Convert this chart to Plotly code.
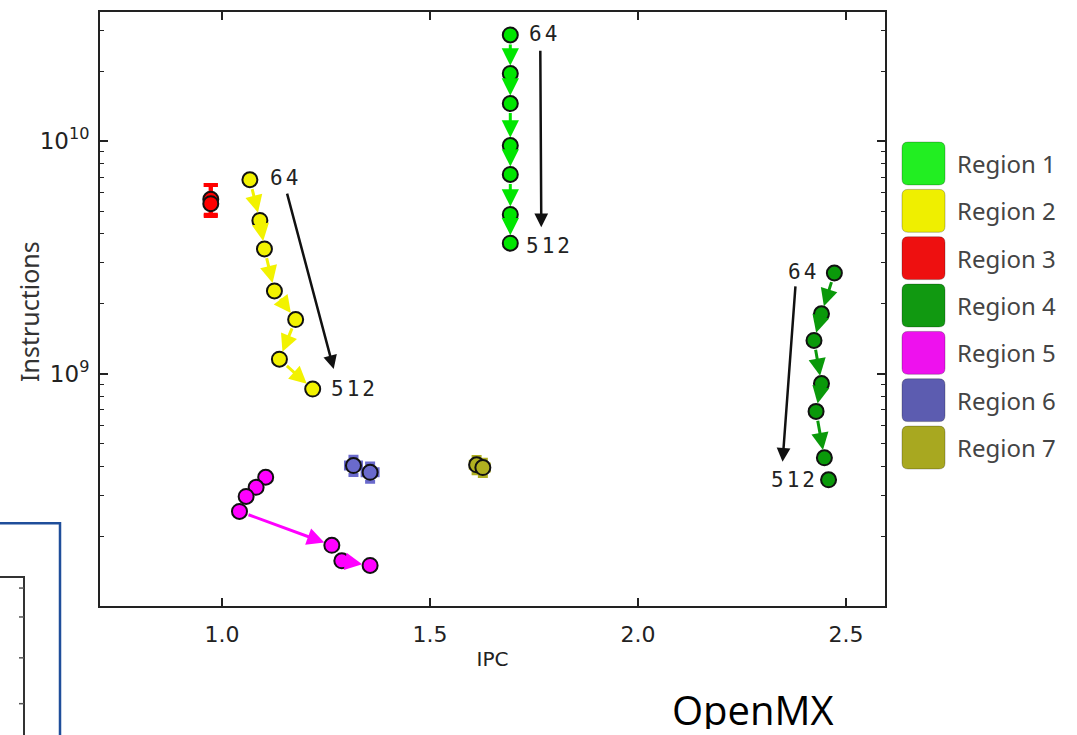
import math
import plotly.graph_objects as go

# ---------------- data ----------------
region_names = ["Region 1", "Region 2", "Region 3", "Region 4", "Region 5", "Region 6", "Region 7"]
marker_colors = ["#00e600", "#f2f200", "#ff0000", "#0a990a", "#ff00ff", "#6a6acc", "#b0b020"]
legend_colors = ["#22ee22", "#efef00", "#ee1010", "#119911", "#ee11ee", "#5c5cb0", "#a8a820"]

r1_ipc = [1.693, 1.693, 1.693, 1.693, 1.693, 1.693, 1.693]
r1_ins = [2.86e10, 1.95e10, 1.45e10, 9.57e9, 7.19e9, 4.84e9, 3.64e9]

r2_ipc = [1.067, 1.091, 1.102, 1.126, 1.177, 1.138, 1.218]
r2_ins = [6.82e9, 4.56e9, 3.44e9, 2.27e9, 1.71e9, 1.155e9, 8.59e8]

r3_ipc = [0.973, 0.973]
r3_ins = [5.62e9, 5.38e9]
r3_err_plus = [0.85e9, 1.1e9]
r3_err_minus = [0.8e9, 0.62e9]

r4_ipc = [2.472, 2.441, 2.423, 2.441, 2.428, 2.448, 2.458]
r4_ins = [2.71e9, 1.81e9, 1.39e9, 9.07e8, 6.89e8, 4.35e8, 3.50e8]

r5_ipc = [1.105, 1.082, 1.058, 1.042, 1.264, 1.288, 1.356]
r5_ins = [3.59e8, 3.25e8, 2.97e8, 2.56e8, 1.83e8, 1.57e8, 1.50e8]

r6_ipc = [1.316, 1.356]
r6_ins = [4.03e8, 3.77e8]

r7_ipc = [1.612, 1.627]
r7_ins = [4.06e8, 3.95e8]

x_tick_vals = [1.0, 1.5, 2.0, 2.5]
x_tick_text = ["1.0", "1.5", "2.0", "2.5"]
y_tick_vals = [1e9, 1e10]
y_tick_text = ["10<sup>9</sup>", "10<sup>10</sup>"]
first_label, last_label = "64", "512"

# ---------------- layout constants ----------------
W, H = 1077, 735
L, R, T, B = 100, 885, 10, 606
X_RANGE = [0.7067, 2.5937]
Y_RANGE = [8.0017, 10.5548]

def to_px(x, y):
    px = L + (x - X_RANGE[0]) / (X_RANGE[1] - X_RANGE[0]) * (R - L)
    py = B - (math.log10(y) - Y_RANGE[0]) / (Y_RANGE[1] - Y_RANGE[0]) * (B - T)
    return px, py

def pxx(px):
    return (px - L) / (R - L)

def pyy(py):
    return (B - py) / (B - T)

fig = go.Figure()

series = [
    (r1_ipc, r1_ins), (r2_ipc, r2_ins), (r3_ipc, r3_ins), (r4_ipc, r4_ins),
    (r5_ipc, r5_ins), (r6_ipc, r6_ins), (r7_ipc, r7_ins),
]

annotations = []

# arrows between consecutive points
for (xs, ys), col in zip(series, marker_colors):
    for i in range(len(xs) - 1):
        p0 = to_px(xs[i], ys[i])
        p1 = to_px(xs[i + 1], ys[i + 1])
        if math.hypot(p1[0] - p0[0], p1[1] - p0[1]) < 24:
            continue
        annotations.append(dict(
            x=xs[i + 1], y=math.log10(ys[i + 1]), ax=xs[i], ay=math.log10(ys[i]),
            xref="x", yref="y", axref="x", ayref="y", text="", showarrow=True,
            arrowhead=2, arrowsize=1.15, arrowwidth=3, arrowcolor=col,
            standoff=8, startstandoff=8,
        ))

err_cfg = {
    5: (0.018, 0.09),
    6: (0.014, 0.08),
}

for k, ((xs, ys), col, name) in enumerate(zip(series, marker_colors, region_names)):
    kw = {}
    if k == 2:
        kw["error_y"] = dict(type="data", symmetric=False, array=r3_err_plus,
                             arrayminus=r3_err_minus, color=col, thickness=4, width=7)
    if k in err_cfg:
        ex, ey = err_cfg[k]
        kw["error_x"] = dict(type="constant", value=ex, color=col, thickness=4, width=5)
        kw["error_y"] = dict(type="percent", value=ey * 100, color=col, thickness=4, width=5)
    fig.add_trace(go.Scatter(
        x=xs, y=ys, mode="markers", name=name, showlegend=False,
        marker=dict(size=15, color=col, line=dict(color="#111111", width=2)),
        **kw,
    ))

# 64 / 512 labels
lab_font = dict(family="DejaVu Sans Mono", size=21, color="#222222")
def label(x, y, text, anchor, xshift, yshift=0):
    annotations.append(dict(x=x, y=math.log10(y), xref="x", yref="y",
                            text=f'<span style="letter-spacing:3px">{text}</span>',
                            showarrow=False, xanchor=anchor, yanchor="middle",
                            xshift=xshift, yshift=yshift, font=lab_font))

label(r1_ipc[0], r1_ins[0], first_label, "left", 17, 1)
label(r1_ipc[-1], r1_ins[-1], last_label, "left", 14, -3)
label(r2_ipc[0], r2_ins[0], first_label, "left", 18, 2)
label(r2_ipc[-1], r2_ins[-1], last_label, "left", 16, 0)
label(r4_ipc[0], r4_ins[0], first_label, "right", -13, 1)
label(r4_ipc[-1], r4_ins[-1], last_label, "right", -9, 0)

# black trend arrows
def trend(x, y, xshift, yshift, ax, ay):
    annotations.append(dict(x=x, y=math.log10(y), xref="x", yref="y", text="",
                            showarrow=True, xshift=xshift, yshift=yshift,
                            ax=ax, ay=ay, arrowhead=2, arrowsize=1.1, arrowwidth=2.5,
                            arrowcolor="#111111"))

trend(r1_ipc[-1], r1_ins[-1], 31, 16, -1, -178)
trend(r2_ipc[-1], r2_ins[-1], 21, 20, -47, -177)
trend(r4_ipc[-1], r4_ins[-1], -46, 18, 13, -177)

# custom legend
shapes = []
def rrect(x0, y0, x1, y1, r):
    X0, X1 = pxx(x0), pxx(x1)
    YT, YB = pyy(y0), pyy(y1)
    rx, ry = r / (R - L), r / (B - T)
    return (f"M {X0+rx},{YT} L {X1-rx},{YT} Q {X1},{YT} {X1},{YT-ry} "
            f"L {X1},{YB+ry} Q {X1},{YB} {X1-rx},{YB} L {X0+rx},{YB} "
            f"Q {X0},{YB} {X0},{YB+ry} L {X0},{YT-ry} Q {X0},{YT} {X0+rx},{YT} Z")

for i, (name, col) in enumerate(zip(region_names, legend_colors)):
    cy = 162 + 47.5 * i
    shapes.append(dict(type="path", xref="paper", yref="paper",
                       path=rrect(902, cy - 21.5, 945, cy + 21.5, 6),
                       fillcolor=col, line=dict(color="rgba(0,0,0,0.25)", width=1)))
    annotations.append(dict(x=pxx(955), y=pyy(cy), xref="paper", yref="paper",
                            text=name, showarrow=False, xanchor="left", yanchor="middle",
                            font=dict(family="Noto Sans", size=24, color="#444444")))

# y-axis title as rotated text
annotations.append(dict(x=pxx(29), y=pyy(311), xref="paper", yref="paper",
                        text="Instructions", textangle=-90, showarrow=False,
                        xanchor="center", yanchor="middle",
                        font=dict(family="Noto Sans", size=25, color="#333333")))

# decorative boxes at bottom-left
shapes.append(dict(type="rect", xref="paper", yref="paper",
                   x0=pxx(-20), x1=pxx(60), y0=pyy(523), y1=pyy(760),
                   line=dict(color="#1f4e9a", width=2.5), fillcolor="rgba(0,0,0,0)"))
shapes.append(dict(type="rect", xref="paper", yref="paper",
                   x0=pxx(-20), x1=pxx(24), y0=pyy(577), y1=pyy(760),
                   line=dict(color="#333333", width=2), fillcolor="rgba(0,0,0,0)"))
for ty in [588, 617, 658, 704]:
    shapes.append(dict(type="line", xref="paper", yref="paper",
                       x0=pxx(19), x1=pxx(24), y0=pyy(ty), y1=pyy(ty),
                       line=dict(color="#555555", width=1.5)))

annotations.append(dict(x=pxx(753), y=pyy(709), xref="paper", yref="paper", text="OpenMX",
                        showarrow=False, xanchor="center", yanchor="middle",
                        height=40, valign="middle",
                        font=dict(family="Open Sans", size=40, color="#000000")))

minor_y = [k * 10 ** e for e in (8, 9, 10) for k in range(2, 10)]

fig.update_layout(
    width=W, height=H,
    margin=dict(l=L, r=W - R, t=T, b=H - B),
    paper_bgcolor="white", plot_bgcolor="white",
    showlegend=False,
    annotations=annotations, shapes=shapes,
    xaxis=dict(
        range=X_RANGE, tickmode="array", tickvals=x_tick_vals, ticktext=x_tick_text,
        ticks="inside", ticklen=8, tickwidth=1.5, tickcolor="#222222",
        showline=True, linecolor="#222222", linewidth=2, mirror="ticks",
        showgrid=False, zeroline=False, ticklabelstandoff=8,
        tickfont=dict(family="DejaVu Sans", size=22, color="#222222"),
        title=dict(text="IPC", font=dict(family="DejaVu Sans", size=20, color="#222222"), standoff=6),
    ),
    yaxis=dict(
        type="log", range=Y_RANGE, tickmode="array", tickvals=y_tick_vals, ticktext=y_tick_text,
        ticks="inside", ticklen=8, tickwidth=1.5, tickcolor="#222222",
        showline=True, linecolor="#222222", linewidth=2, mirror="ticks",
        showgrid=False, zeroline=False, ticklabelstandoff=4,
        minor=dict(tickmode="array", tickvals=minor_y, ticks="inside", ticklen=4,
                   tickwidth=1.2, tickcolor="#222222", showgrid=False),
        tickfont=dict(family="DejaVu Sans", size=23, color="#222222"),
    ),
)

fig.write_html("out.html")
